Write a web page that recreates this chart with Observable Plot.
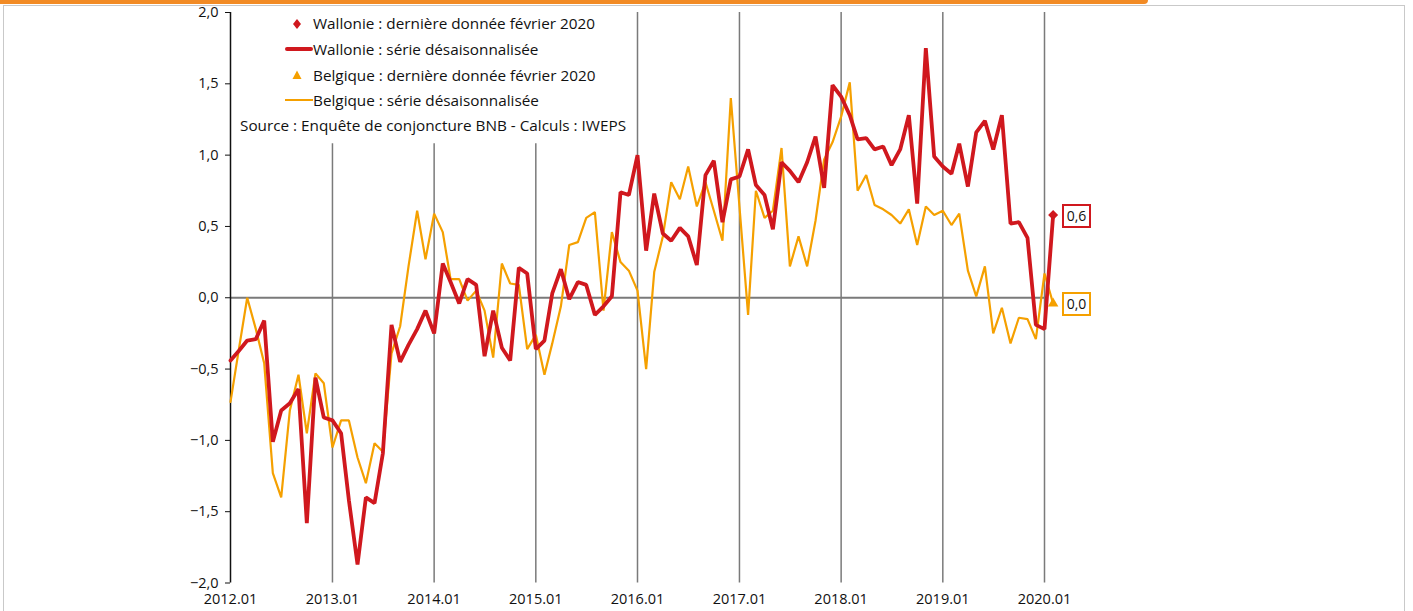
<!DOCTYPE html>
<html><head><meta charset="utf-8">
<script src="https://cdn.jsdelivr.net/npm/d3@7"></script>
<script src="https://cdn.jsdelivr.net/npm/@observablehq/plot@0.6"></script>
<style>
html,body{margin:0;padding:0;background:#fff;overflow:hidden;}
#wrap{position:relative;width:1413px;height:611px;font-family:"Open Sans",sans-serif;color:#111;}
#wrap svg{position:absolute;left:0;top:0;}
.topbar{position:absolute;left:0;top:0;width:1148px;height:4px;background:#f28b25;border-radius:0 0 5px 0;z-index:3;}
.frame{position:absolute;left:3px;top:5px;width:1402px;height:640px;border:1.5px solid #c9c9c9;box-sizing:border-box;z-index:0;}
.leg{position:absolute;font-size:15.3px;font-weight:500;white-space:nowrap;line-height:1;z-index:2;}
.sw{position:absolute;z-index:2;}
.vbox{position:absolute;background:#fff;font-size:14px;font-weight:500;line-height:1;padding:3px 3px;z-index:2;border:2px solid;}
</style></head>
<body>
<div id="wrap">
  <div class="frame"></div>
  <div class="topbar"></div>
</div>
<script>
// ---- data ----
const startMonth = "2012-01";
const wallonie = [
  -0.44,-0.37,-0.30,-0.29,-0.16,-1.01,-0.79,-0.74,-0.64,-1.58,-0.56,-0.84,
  -0.86,-0.95,-1.42,-1.87,-1.40,-1.44,-1.09,-0.19,-0.45,-0.33,-0.22,-0.09,
  -0.25,0.24,0.11,-0.04,0.13,0.09,-0.41,-0.09,-0.35,-0.44,0.21,0.17,
  -0.36,-0.30,0.03,0.20,-0.01,0.11,0.09,-0.12,-0.06,0.01,0.74,0.72,
  1.00,0.33,0.73,0.45,0.40,0.49,0.43,0.23,0.86,0.96,0.53,0.83,
  0.85,1.04,0.79,0.72,0.48,0.95,0.89,0.81,0.95,1.13,0.77,1.49,
  1.41,1.28,1.11,1.12,1.04,1.06,0.93,1.04,1.28,0.66,1.75,0.99,
  0.92,0.87,1.08,0.78,1.16,1.24,1.04,1.28,0.52,0.53,0.42,-0.19,
  -0.22,0.58
];
const belgique = [
  -0.73,-0.35,0.00,-0.22,-0.46,-1.23,-1.40,-0.79,-0.54,-0.95,-0.53,-0.60,
  -1.05,-0.86,-0.86,-1.12,-1.30,-1.02,-1.08,-0.39,-0.20,0.22,0.61,0.27,
  0.59,0.46,0.13,0.13,-0.02,0.05,-0.09,-0.42,0.24,0.10,0.09,-0.36,
  -0.26,-0.54,-0.32,-0.06,0.37,0.39,0.56,0.60,-0.09,0.46,0.25,0.19,
  0.05,-0.50,0.18,0.43,0.81,0.69,0.92,0.64,0.81,0.61,0.40,1.40,
  0.64,-0.12,0.75,0.56,0.61,1.05,0.22,0.43,0.22,0.54,0.97,1.09,
  1.27,1.51,0.75,0.86,0.65,0.62,0.58,0.52,0.62,0.37,0.64,0.58,
  0.61,0.51,0.59,0.19,0.01,0.22,-0.25,-0.07,-0.32,-0.14,-0.15,-0.29,
  0.17,-0.04
];
const yearTicks = [2012,2013,2014,2015,2016,2017,2018,2019,2020];
const yTicks = [-2,-1.5,-1,-0.5,0,0.5,1,1.5,2];
const lastLabels = ["0,6","0,0"];
const legendItems = [
  "Wallonie : dernière donnée février 2020",
  "Wallonie : série désaisonnalisée",
  "Belgique : dernière donnée février 2020",
  "Belgique : série désaisonnalisée"
];
const sourceText = "Source : Enquête de conjoncture BNB - Calculs : IWEPS";

// ---- build ----
const RED = "#d0181e", ORANGE = "#f5a000", GRID = "#7a7a7a";
const t0 = new Date(startMonth + "-01T00:00:00Z");
const month = i => d3.utcMonth.offset(t0, i);
const wal = wallonie.map((v,i)=>({date:month(i), v}));
const bel = belgique.map((v,i)=>({date:month(i), v}));
const years = yearTicks.map(y => ({date:new Date(Date.UTC(y,0,1)), top: y < 2016 ? 1.08 : 2}));
const xEnd = new Date(Date.UTC(2020,0,1));
const fmt = v => d3.format(".1f")(v).replace(".", ",");

const chart = Plot.plot({
  width: 1413, height: 611,
  marginLeft: 230, marginRight: 369, marginTop: 12, marginBottom: 28.5,
  style: {fontFamily: '"Open Sans", sans-serif', fontSize: "14.5px", fontWeight: 500, color: "#111", background: "transparent"},
  x: {type: "utc", domain: [t0, xEnd]},
  y: {domain: [-2, 2]},
  marks: [
    Plot.ruleX(years.filter(d => d.date > t0), {x: "date", y1: -2, y2: "top", stroke: GRID, strokeWidth: 1.5}),
    Plot.ruleY([0], {x1: t0, x2: xEnd, stroke: GRID, strokeWidth: 2}),
    Plot.ruleX([t0], {y1: -2, y2: 2, stroke: "#111", strokeWidth: 1.5}),
    Plot.axisY({ticks: yTicks, tickFormat: fmt, tickSize: 5, tickPadding: 7, label: null, fontSize: 14.5}),
    Plot.axisX({ticks: years.map(d=>d.date), tickFormat: d => d3.utcFormat("%Y.%m")(d), tickSize: 0, tickPadding: 11, label: null, fontSize: 14.5}),
    Plot.line(bel, {x: "date", y: "v", stroke: ORANGE, strokeWidth: 2.2, strokeLinejoin: "miter"}),
    Plot.line(wal, {x: "date", y: "v", stroke: RED, strokeWidth: 3.8, strokeLinejoin: "miter"}),
    Plot.dot(wal.slice(-1), {x: "date", y: "v", symbol: "diamond2", fill: RED, r: 4.5}),
    Plot.dot(bel.slice(-1), {x: "date", y: "v", symbol: "triangle2", fill: ORANGE, r: 5})
  ]
});
const wrap = document.getElementById("wrap");
wrap.insertBefore(chart, wrap.querySelector(".topbar"));

// legend overlay
const legTop = [15.5, 41.5, 67.5, 92.5];
legendItems.forEach((t,i) => {
  const d = document.createElement("div");
  d.className = "leg"; d.textContent = t;
  d.style.left = "313px"; d.style.top = legTop[i] + "px";
  wrap.appendChild(d);
});
const sw = [
  `<svg class="sw" style="left:290px;top:18px" width="14" height="12"><path d="M7 1 L11 6 L7 11 L3 6Z" fill="${RED}"/></svg>`,
  `<div class="sw" style="left:285px;top:47px;width:28px;height:4px;background:${RED};border-radius:2px"></div>`,
  `<svg class="sw" style="left:290px;top:69px" width="14" height="12"><path d="M7 1.5 L11.5 10 L2.5 10Z" fill="${ORANGE}"/></svg>`,
  `<div class="sw" style="left:285px;top:99px;width:28px;height:2px;background:${ORANGE}"></div>`
];
wrap.insertAdjacentHTML("beforeend", sw.join(""));
const src = document.createElement("div");
src.className = "leg"; src.textContent = sourceText;
src.style.left = "240px"; src.style.top = "117.5px";
wrap.appendChild(src);

// value labels next to last points, positioned through Plot scales
const xs = chart.scale("x"), ys = chart.scale("y");
[[wal, RED, lastLabels[0]], [bel, ORANGE, lastLabels[1]]].forEach(([s, c, lab]) => {
  const last = s[s.length-1];
  const px = xs.apply(last.date), py = ys.apply(last.v);
  const b = document.createElement("div");
  b.className = "vbox"; b.textContent = lab;
  b.style.borderColor = c;
  b.style.left = (px + 9) + "px";
  b.style.top = (py - 11) + "px";
  wrap.appendChild(b);
});
</script>
</body></html>
